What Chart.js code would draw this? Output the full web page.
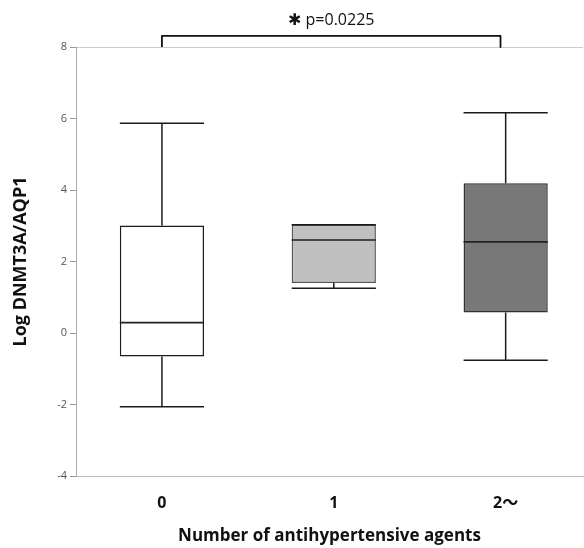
<!DOCTYPE html>
<html><head><meta charset="utf-8">
<script src="https://cdn.jsdelivr.net/npm/chart.js@4.4.1/dist/chart.umd.min.js"></script>
<style>html,body{margin:0;padding:0;background:#fff;} #wrap{width:584px;height:548px;position:relative;}</style>
</head><body><div id="wrap"><canvas id="c"></canvas></div>
<script>
const categories = ['0', '1', '2〜'];
const whiskerMin = [-2.06, 1.25, -0.76];
const q1 = [-0.66, 1.40, 0.57];
const median = [0.29, 2.60, 2.55];
const q3 = [3.01, 3.03, 4.19];
const whiskerMax = [5.87, 3.03, 6.16];
const boxFill = ['#ffffff', '#c0c0c0', '#787878'];
const boxBorder = ['#1a1a1a', '#555555', '#333333'];
const yTicks = [-4, -2, 0, 2, 4, 6, 8];
const pLabel = '✱ p=0.0225';
const bracketX = [0, 1.97];
const bracketLevel = 8.31;
const yTitle = 'Log DNMT3A/AQP1';
const xTitle = 'Number of antihypertensive agents';

const FONT = '"Open Sans", "Noto Sans CJK JP", sans-serif';
Chart.defaults.font.family = FONT;
const boxFrac = 0.49;
const hw = boxFrac / 2;

const whiskerPts = [];
const medianPts = [];
categories.forEach((c, i) => {
  whiskerPts.push(
    {x: i, y: q3[i]}, {x: i, y: whiskerMax[i]}, {x: i, y: null},
    {x: i - hw, y: whiskerMax[i]}, {x: i + hw, y: whiskerMax[i]}, {x: i, y: null},
    {x: i, y: q1[i]}, {x: i, y: whiskerMin[i]}, {x: i, y: null},
    {x: i - hw, y: whiskerMin[i]}, {x: i + hw, y: whiskerMin[i]}, {x: i, y: null}
  );
  medianPts.push({x: i - hw, y: median[i]}, {x: i + hw, y: median[i]}, {x: i, y: null});
});
const bracketPts = [
  {x: bracketX[0], y: yTicks[yTicks.length - 1]}, {x: bracketX[0], y: bracketLevel},
  {x: bracketX[1], y: bracketLevel}, {x: bracketX[1], y: yTicks[yTicks.length - 1]}
];

const annot = {
  id: 'annot',
  afterDatasetsDraw(chart) {
    const {ctx, scales: {x, y}} = chart;
    ctx.save();
    ctx.font = '16px "Open Sans", "DejaVu Sans", sans-serif';
    ctx.fillStyle = '#111';
    ctx.textAlign = 'center';
    ctx.textBaseline = 'alphabetic';
    ctx.fillText(pLabel, x.getPixelForValue((bracketX[0] + bracketX[1]) / 2), y.getPixelForValue(bracketLevel) - 11);
    ctx.restore();
  }
};

new Chart(document.getElementById('c'), {
  type: 'bar',
  data: {
    datasets: [
      {type: 'bar', data: categories.map((c, i) => ({x: i, y: [q1[i], q3[i]]})),
        categoryPercentage: 1, barPercentage: boxFrac, backgroundColor: boxFill, borderColor: boxBorder,
        borderWidth: 1.5, borderSkipped: false, order: 3},
      {type: 'line', data: medianPts, borderColor: '#222', borderWidth: 1.6, pointRadius: 0, spanGaps: false, tension: 0, order: 2},
      {type: 'line', data: whiskerPts, borderColor: '#1a1a1a', borderWidth: 1.5, pointRadius: 0, spanGaps: false, tension: 0, order: 1},
      {type: 'line', data: bracketPts, borderColor: '#111', borderWidth: 1.8, pointRadius: 0, tension: 0, clip: false, order: 1, borderJoinStyle: 'round'}
    ]
  },
  options: {
    responsive: true, maintainAspectRatio: false, animation: false,
    layout: {padding: {top: 47, right: 1, left: 0, bottom: 0}},
    plugins: {legend: {display: false}, tooltip: {enabled: false}},
    scales: {
      x: {
        type: 'linear', min: -0.5, max: 2.45, offset: false,
        afterBuildTicks: s => { s.ticks = categories.map((c, i) => ({value: i})); },
        afterFit: s => { s.height = 72; },
        grid: {display: false, drawTicks: false, offset: false},
        border: {color: '#bdbdbd', width: 1},
        ticks: {callback: v => categories[v], font: {size: 16, weight: 'bold'}, color: '#111', padding: 18, maxRotation: 0},
        title: {display: true, text: xTitle, font: {size: 17, weight: 'bold'}, color: '#111', padding: {top: 0, bottom: 2}}
      },
      y: {
        min: yTicks[0], max: yTicks[yTicks.length - 1],
        afterBuildTicks: s => { s.ticks = yTicks.map(v => ({value: v})); },
        afterFit: s => { s.width = 76; },
        grid: {color: c => (c.tick && c.tick.value === yTicks[yTicks.length - 1]) ? '#cccccc' : 'rgba(0,0,0,0)', tickColor: '#999', tickLength: 6, lineWidth: 1},
        border: {color: '#aaaaaa', width: 1},
        ticks: {font: {size: 11}, color: '#555', padding: 3},
        title: {display: true, text: yTitle, font: {size: 18, weight: 'bold'}, color: '#111', padding: {top: 10, bottom: 0}}
      }
    }
  },
  plugins: [annot]
});
</script></body></html>
